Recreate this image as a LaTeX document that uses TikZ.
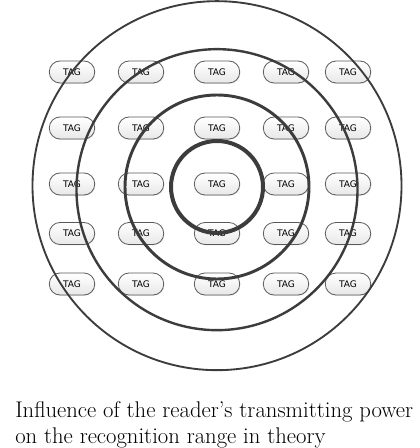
\documentclass[tikz,border=0pt]{standalone}
\usepackage{fontspec}
\newfontfamily\tagfont{DejaVu Sans}
\usetikzlibrary{shadows}
\definecolor{ringgray}{HTML}{3C3C3C}
\begin{document}
\begin{tikzpicture}[x=0.75pt, y=-0.75pt,
  tagbox/.style={draw=ringgray!85, line width=0.6pt, rounded corners=8pt,
    top color=white, bottom color=gray!18,
    drop shadow={opacity=0.2, shadow xshift=0.6pt, shadow yshift=-0.6pt},
    minimum width=34pt, minimum height=16.5pt, inner sep=0pt,
    font=\tagfont\fontsize{6.8}{7}\selectfont},
  ring/.style={draw=ringgray}]
\useasboundingbox (0, 0) rectangle (419, 448);
\coordinate (reader) at (217, 187);
\node [tagbox] (t11) at (72, 72) {TAG};
\node [tagbox] (t12) at (141, 72) {TAG};
\node [tagbox] (t13) at (217, 72) {TAG};
\node [tagbox] (t14) at (286, 72) {TAG};
\node [tagbox] (t15) at (348, 72) {TAG};
\node [tagbox] (t21) at (72, 128) {TAG};
\node [tagbox] (t22) at (141, 128) {TAG};
\node [tagbox] (t23) at (217, 128) {TAG};
\node [tagbox] (t24) at (286, 128) {TAG};
\node [tagbox] (t25) at (348, 128) {TAG};
\node [tagbox] (t31) at (72, 184) {TAG};
\node [tagbox] (t32) at (141, 184) {TAG};
\node [tagbox] (t33) at (217, 184) {TAG};
\node [tagbox] (t34) at (286, 184) {TAG};
\node [tagbox] (t35) at (348, 184) {TAG};
\node [tagbox] (t41) at (72, 233.5) {TAG};
\node [tagbox] (t42) at (141, 233.5) {TAG};
\node [tagbox] (t43) at (217, 233.5) {TAG};
\node [tagbox] (t44) at (286, 233.5) {TAG};
\node [tagbox] (t45) at (348, 233.5) {TAG};
\node [tagbox] (t51) at (72, 284) {TAG};
\node [tagbox] (t52) at (141, 284) {TAG};
\node [tagbox] (t53) at (217, 284) {TAG};
\node [tagbox] (t54) at (286, 284) {TAG};
\node [tagbox] (t55) at (348, 284) {TAG};
\draw [ring, line width=3pt] (reader) circle (46);
\draw [ring, line width=2.2pt] (reader) circle (92);
\draw [ring, line width=1.8pt] ([yshift=-2pt]reader) circle (140.5);
\draw [ring, line width=1.4pt] ([yshift=1pt]reader) circle (184.5);
\node [anchor=base west, align=left, inner sep=0pt, font=\fontsize{17}{19.5}\selectfont] (caption) at (15, 443)
  {Influence of the reader's transmitting power\\on the recognition range in theory};
\end{tikzpicture}
\end{document}
